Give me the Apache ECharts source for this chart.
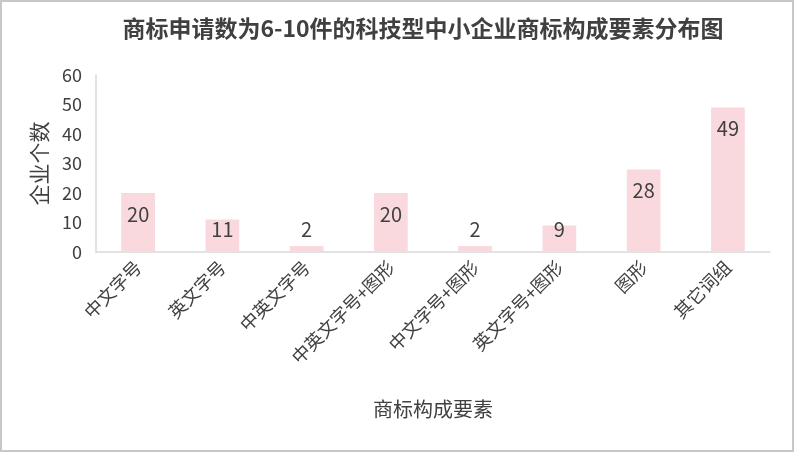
<!DOCTYPE html>
<html>
<head>
<meta charset="utf-8">
<script src="https://cdn.jsdelivr.net/npm/echarts@6/dist/echarts.min.js"></script>
<style>
  html, body { margin: 0; padding: 0; background: #fff; }
  #main { width: 794px; height: 452px; box-sizing: border-box; border: 2px solid #c8c8c8; }
</style>
</head>
<body>
<div id="main"></div>
<script>
// 商标构成要素
var categories = ['中文字号', '英文字号', '中英文字号', '中英文字号+图形', '中文字号+图形', '英文字号+图形', '图形', '其它词组'];
// 企业个数
var counts = [20, 11, 2, 20, 2, 9, 28, 49];
var yTicks = { min: 0, max: 60, interval: 10 };

var myChart = echarts.init(document.getElementById('main'));

var barData = [];
for (var i = 0; i < counts.length; i++) {
    var small = counts[i] < 16;
    barData.push({
        value: counts[i],
        label: {
            position: small ? 'insideBottom' : 'insideTop',
            distance: small ? 13 : 11
        }
    });
}

var textColor = '#404040';
var fontFamily = '"Noto Sans CJK SC", "Noto Sans", sans-serif';

var option = {
    animation: false,
    textStyle: { fontFamily: fontFamily },
    title: {
        text: '商标申请数为6-10件的科技型中小企业商标构成要素分布图',
        left: 416,
        textAlign: 'center',
        top: 10,
        textStyle: { fontSize: 23, fontWeight: 'bold', color: textColor, fontFamily: fontFamily }
    },
    grid: { left: 94, right: 22, top: 73, bottom: 198, containLabel: false },
    xAxis: {
        type: 'category',
        data: categories,
        name: '商标构成要素',
        nameLocation: 'middle',
        nameGap: 147,
        nameTextStyle: { fontSize: 20, color: textColor },
        axisLine: { lineStyle: { color: '#d9d9d9', width: 1.5 } },
        axisTick: { show: false },
        axisLabel: { rotate: 45, fontSize: 18, color: textColor, margin: 12, interval: 0 }
    },
    yAxis: {
        type: 'value',
        min: yTicks.min,
        max: yTicks.max,
        interval: yTicks.interval,
        name: '企业个数',
        nameLocation: 'middle',
        nameGap: 46,
        nameTextStyle: { fontSize: 21, color: textColor },
        axisLine: { show: true, lineStyle: { color: '#d9d9d9', width: 1.5 } },
        axisTick: { show: false },
        splitLine: { show: false },
        axisLabel: { fontSize: 18, color: textColor, margin: 14 }
    },
    series: [{
        type: 'bar',
        data: barData,
        barWidth: '40%',
        itemStyle: { color: '#f9d9de' },
        label: { show: true, fontSize: 20, color: textColor }
    }]
};
myChart.setOption(option);
</script>
</body>
</html>
